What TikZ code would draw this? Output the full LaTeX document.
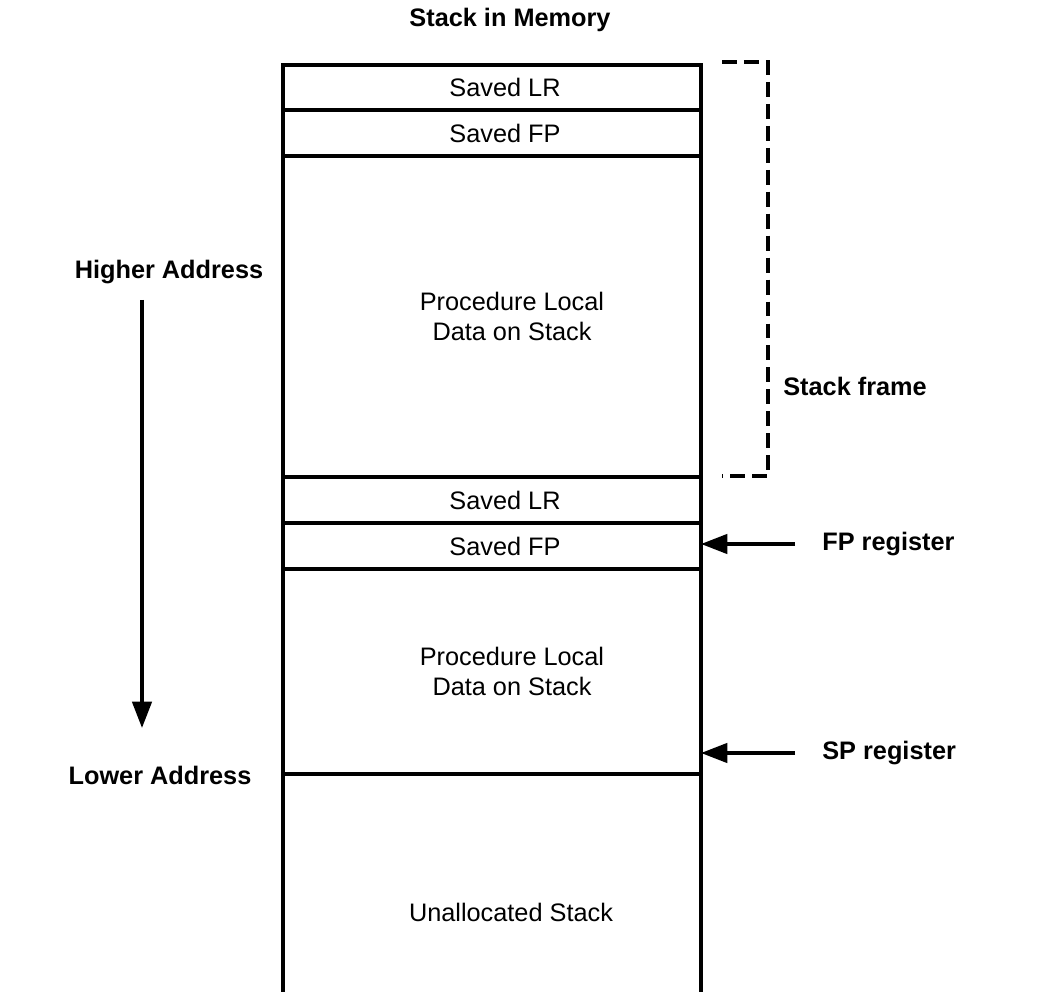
\documentclass[tikz,border=0pt]{standalone}
\usepackage{fontspec}
\setmainfont{Liberation Sans}
\usetikzlibrary{positioning,arrows.meta}
\definecolor{ink}{HTML}{000000}
\newcommand{\md}{\fontsize{14.4pt}{17pt}\selectfont}
\tikzset{
  cell/.style={draw=ink, line width=2pt, minimum width=8.36cm, outer sep=0pt, inner sep=0pt},
  ctext/.style={font=\md, text=ink, align=center, inner sep=0pt},
  lab/.style={font=\md\bfseries, text=ink, inner sep=0pt},
  arr/.style={-{Triangle[length=15pt,width=11pt]}, line width=2pt, color=ink},
  frame/.style={line width=2pt, color=ink, dash pattern=on 8.5pt off 4pt},
}

\begin{document}
\begin{tikzpicture}
  \useasboundingbox (0,0) rectangle (20.86,-19.84);
  % the stack column
  \node[cell, minimum height=0.9cm, anchor=north west] (lr1) at (5.66,-1.3) {};
  \node[cell, minimum height=0.92cm, below=0pt of lr1] (fp1) {};
  \node[cell, minimum height=6.42cm, below=0pt of fp1] (loc1) {};
  \node[cell, minimum height=0.92cm, below=0pt of loc1] (lr2) {};
  \node[cell, minimum height=0.92cm, below=0pt of lr2] (fp2) {};
  \node[cell, minimum height=4.1cm, below=0pt of fp2] (loc2) {};
  \node[cell, draw=none, minimum height=4.36cm, below=0pt of loc2] (free) {};
  \draw[line width=2pt, ink] (free.north west) -- (free.south west)
    (free.north east) -- (free.south east);
  % texts in the cells
  \node[ctext] (lr1t) at ([xshift=0.26cm]lr1.center) {Saved LR};
  \node[ctext] (fp1t) at ([xshift=0.26cm]fp1.center) {Saved FP};
  \node[ctext] (loc1t) at ([xshift=0.4cm]loc1.center) {Procedure Local\\Data on Stack};
  \node[ctext] (lr2t) at ([xshift=0.26cm]lr2.center) {Saved LR};
  \node[ctext] (fp2t) at ([xshift=0.26cm]fp2.center) {Saved FP};
  \node[ctext] (loc2t) at ([xshift=0.4cm]loc2.center) {Procedure Local\\Data on Stack};
  \node[ctext] (freet) at ([xshift=0.38cm,yshift=-0.58cm]free.center) {Unallocated Stack};
  % labels
  \node[lab] (title) at (10.2,-0.4) {Stack in Memory};
  \node[lab] (hi) at (3.38,-5.44) {Higher Address};
  \node[lab] (lo) at (3.2,-15.5) {Lower Address};
  \node[lab, anchor=west] (sf) at (15.66,-7.72) {Stack frame};
  \node[lab, anchor=west] (fpl) at (16.44,-10.88) {FP register};
  \node[lab, anchor=west] (spl) at (16.44,-15.06) {SP register};
  % arrows
  \coordinate (hitop) at (2.84,-6.0);
  \coordinate (lobot) at (2.84,-14.56);
  \draw[arr] (hitop) -- (lobot);
  \draw[arr] ([xshift=-0.54cm]fpl.west) -- (fpl.west -| fp2.east);
  \draw[arr] ([xshift=-0.54cm]spl.west) -- (spl.west -| loc2.east);
  % stack frame bracket
  \draw[frame] ([xshift=0.42cm,yshift=0.06cm]lr1.north east)
    -| ([xshift=1.34cm,yshift=0.02cm]loc1.south east) -- ++(-0.92,0);
\end{tikzpicture}
\end{document}
